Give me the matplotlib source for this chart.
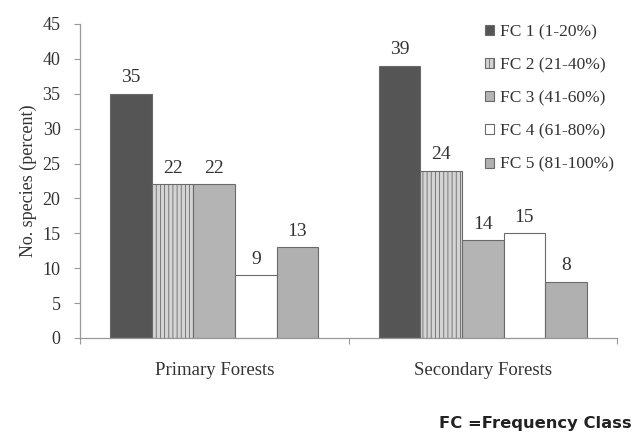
import matplotlib
matplotlib.use("Agg")
import matplotlib.pyplot as plt
import numpy as np

categories = ["Primary Forests", "Secondary Forests"]
classes = ["FC 1 (1-20%)", "FC 2 (21-40%)", "FC 3 (41-60%)", "FC 4 (61-80%)", "FC 5 (81-100%)"]
values = {
    "FC 1 (1-20%)": [35, 39],
    "FC 2 (21-40%)": [22, 24],
    "FC 3 (41-60%)": [22, 14],
    "FC 4 (61-80%)": [9, 15],
    "FC 5 (81-100%)": [13, 8],
}
y_ticks = [0, 5, 10, 15, 20, 25, 30, 35, 40, 45]

fills = ["#555555", "#d4d4d4", "#b4b4b4", "#ffffff", "#b0b0b0"]
hatches = [None, "||||", None, None, None]

plt.rcParams["font.family"] = ["Liberation Serif", "DejaVu Serif"]
plt.rcParams["hatch.color"] = "#9a9a9a"
plt.rcParams["hatch.linewidth"] = 0.6

fig = plt.figure(figsize=(6.37, 4.33), dpi=100)
ax = fig.add_axes([0.1256, 0.2194, 0.843, 0.7252])

x = np.arange(len(categories))
width = 0.155
for i, cls in enumerate(classes):
    offs = (i - 2) * width
    bars = ax.bar(x + offs, values[cls], width, color=fills[i], edgecolor="#6a6a6a",
                  linewidth=0.8, hatch=hatches[i], label=cls)
    for b, v in zip(bars, values[cls]):
        ax.text(b.get_x() + b.get_width() / 2, v + 1.1, str(v), ha="center", va="bottom",
                fontsize=14, color="#333333")

ax.set_xlim(-0.5, 1.5)
ax.set_ylim(0, 45)
ax.set_yticks(y_ticks)
ax.set_yticklabels([str(t) for t in y_ticks], fontsize=13, color="#333333")
ax.set_xticks([-0.5, 0.5, 1.5], minor=False)
ax.set_xticklabels([])
ax.tick_params(axis="x", direction="out", length=4, color="#999999")
ax.tick_params(axis="y", direction="out", length=4, color="#999999", pad=10)
for xi, name in zip(x, categories):
    ax.text(xi, -4.7, name, ha="center", va="center", fontsize=13.5, color="#333333")

for s in ["top", "right"]:
    ax.spines[s].set_visible(False)
for s in ["left", "bottom"]:
    ax.spines[s].set_color("#999999")
    ax.spines[s].set_linewidth(0.9)

ax.set_ylabel("No. species (percent)", fontsize=13, color="#333333", labelpad=4)

leg = ax.legend(loc="upper left", bbox_to_anchor=(0.742, 1.022), frameon=False,
                fontsize=12.5, handlelength=0.5, handleheight=0.5, handletextpad=0.35,
                labelspacing=0.99, borderaxespad=0)
for t in leg.get_texts():
    t.set_color("#333333")

fig.text(0.992, 0.005, "FC =Frequency Class", ha="right", va="bottom", fontsize=11.8,
         fontweight="bold", family=["DejaVu Sans"], color="#222222")

fig.savefig("out.png", dpi=100)
